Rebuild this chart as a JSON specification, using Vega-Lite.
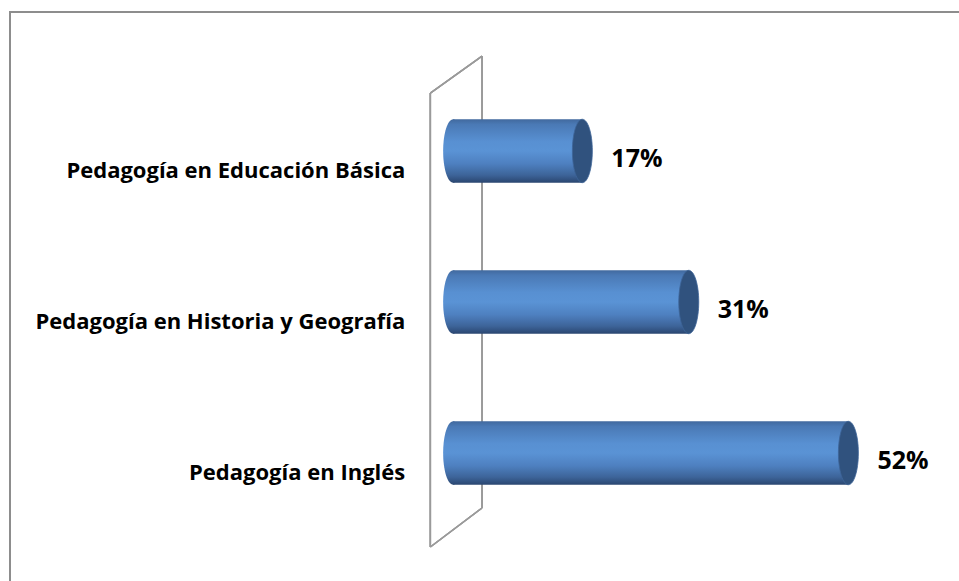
{
  "$schema": "https://vega.github.io/schema/vega-lite/v6.json",
  "width": 960,
  "height": 580,
  "autosize": {"type": "none"},
  "padding": {"left": 10, "top": 12, "right": 0, "bottom": 0},
  "background": "white",
  "config": {"view": {"stroke": "#8d8d8d", "strokeWidth": 2}, "font": "Open Sans"},
  "data": {
    "values": [
      {"carrera": "Pedagogía en Educación Básica", "pct": 0.17},
      {"carrera": "Pedagogía en Historia y Geografía", "pct": 0.31},
      {"carrera": "Pedagogía en Inglés", "pct": 0.52}
    ]
  },
  "layer": [
    {
      "layer": [
        {
          "mark": {"type": "rule", "color": "#9a9a9a", "strokeWidth": 1.5},
          "encoding": {
            "x": {"datum": -0.030, "type": "quantitative", "scale": {"domain": [-0.583, 0.680], "nice": false, "zero": false}, "axis": null},
            "y": {"datum": 13.97, "type": "quantitative", "scale": {"domain": [0, 100], "reverse": true, "nice": false, "zero": false}, "axis": null},
            "y2": {"datum": 92.24}
          }
        },
        {
          "mark": {"type": "rule", "color": "#9a9a9a", "strokeWidth": 1.5},
          "encoding": {
            "x": {"datum": 0.038, "type": "quantitative"},
            "y": {"datum": 7.59, "type": "quantitative"},
            "y2": {"datum": 85.52}
          }
        },
        {
          "mark": {"type": "rule", "color": "#9a9a9a", "strokeWidth": 1.5},
          "encoding": {
            "x": {"datum": -0.030, "type": "quantitative"},
            "x2": {"datum": 0.038},
            "y": {"datum": 13.97, "type": "quantitative"},
            "y2": {"datum": 7.59}
          }
        },
        {
          "mark": {"type": "rule", "color": "#9a9a9a", "strokeWidth": 1.5},
          "encoding": {
            "x": {"datum": -0.030, "type": "quantitative"},
            "x2": {"datum": 0.038},
            "y": {"datum": 92.24, "type": "quantitative"},
            "y2": {"datum": 85.52}
          }
        }
      ]
    },
    {
      "encoding": {
        "y": {"field": "carrera", "type": "nominal", "sort": null, "scale": {"paddingInner": 0.58, "paddingOuter": 0.71}, "axis": null}
      },
      "layer": [
        {
          "mark": {
            "type": "point",
            "filled": true,
            "opacity": 1,
            "size": 4020,
            "shape": "M 0 -1 A 0.315 1 0 1 1 0 1 A 0.315 1 0 1 1 0 -1 Z",
            "fill": {"gradient": "linear", "x1": 0, "y1": 0, "x2": 0, "y2": 1, "stops": [
              {"offset": 0, "color": "#41699e"},
              {"offset": 0.08, "color": "#4a79b5"},
              {"offset": 0.35, "color": "#5890d2"},
              {"offset": 0.5, "color": "#5a93d5"},
              {"offset": 0.7, "color": "#4e80c0"},
              {"offset": 0.88, "color": "#3d6499"},
              {"offset": 1, "color": "#2a4670"}
            ]},
            "strokeWidth": 0
          },
          "encoding": {
            "x": {"datum": 0, "type": "quantitative"}
          }
        },
        {
          "mark": {
            "type": "bar",
            "fill": {"gradient": "linear", "x1": 0, "y1": 0, "x2": 0, "y2": 1, "stops": [
              {"offset": 0, "color": "#41699e"},
              {"offset": 0.08, "color": "#4a79b5"},
              {"offset": 0.35, "color": "#5890d2"},
              {"offset": 0.5, "color": "#5a93d5"},
              {"offset": 0.7, "color": "#4e80c0"},
              {"offset": 0.88, "color": "#3d6499"},
              {"offset": 1, "color": "#2a4670"}
            ]}
          },
          "encoding": {
            "x": {"field": "pct", "type": "quantitative"}
          }
        },
        {
          "mark": {
            "type": "point",
            "filled": true,
            "opacity": 1,
            "size": 4020,
            "shape": "M 0 -1 A 0.315 1 0 1 1 0 1 A 0.315 1 0 1 1 0 -1 Z",
            "fill": "#30527e",
            "stroke": "#3d6598",
            "strokeWidth": 0.8
          },
          "encoding": {
            "x": {"field": "pct", "type": "quantitative"}
          }
        },
        {
          "mark": {"type": "text", "align": "left", "baseline": "middle", "dx": 29, "dy": 8, "fontSize": 25, "fontWeight": "bold", "color": "#000000"},
          "encoding": {
            "x": {"field": "pct", "type": "quantitative"},
            "text": {"field": "pct", "type": "quantitative", "format": ".0%"}
          }
        },
        {
          "mark": {"type": "text", "align": "right", "baseline": "middle", "dy": 20, "fontSize": 22, "fontWeight": "bold", "color": "#000000"},
          "encoding": {
            "x": {"datum": -0.063, "type": "quantitative"},
            "text": {"field": "carrera", "type": "nominal"}
          }
        }
      ]
    }
  ],
  "resolve": {"scale": {"y": "independent"}}
}
